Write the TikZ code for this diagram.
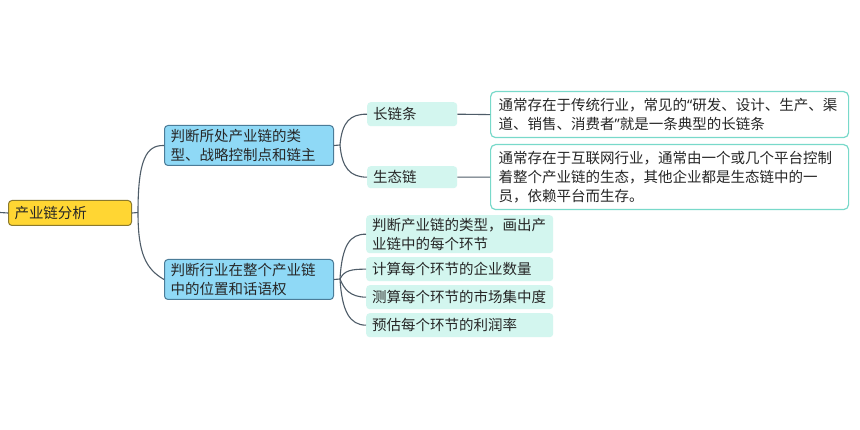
\documentclass[tikz,border=0pt]{standalone}
\usepackage{fontspec}
\setmainfont{Noto Sans CJK SC}
\newfontfamily\quotefont{Noto Sans}
\newcommand{\myoq}{{\quotefont “}}
\newcommand{\mycq}{{\quotefont ”}}
\definecolor{rootfill}{HTML}{FFD633}
\definecolor{rootdraw}{HTML}{8C7A2C}
\definecolor{bluefill}{HTML}{8FD9F6}
\definecolor{bluedraw}{HTML}{4B7C98}
\definecolor{mintfill}{HTML}{D3F6EF}
\definecolor{descdraw}{HTML}{78D9CA}
\definecolor{linec}{HTML}{4E5C68}
\definecolor{textc}{HTML}{262626}
\tikzset{
  base/.style={anchor=north west, align=left, text=textc, font=\fontsize{14.5}{19}\selectfont, inner ysep=1pt},
  rootbox/.style={base, draw=rootdraw, fill=rootfill, line width=1pt, rounded corners=3.5pt, inner xsep=6pt, text width=111pt, minimum height=25pt},
  bluebox/.style={base, draw=bluedraw, fill=bluefill, line width=1pt, rounded corners=3.5pt, inner xsep=6pt, text width=157pt, minimum height=40pt},
  mintbox/.style={base, fill=mintfill, rounded corners=3.5pt, inner xsep=6pt},
  descbox/.style={base, draw=descdraw, fill=white, line width=1.2pt, rounded corners=5pt, inner xsep=8pt, text width=342pt},
  conn/.style={draw=linec, line width=1.1pt},
}
\begin{document}
\begin{tikzpicture}[x=1pt,y=-1pt]
\useasboundingbox (0,0) rectangle (860,430);
\fill[white] (0,0) rectangle (860,430);
% nodes
\node[rootbox] (root) at (8,200) {产业链分析};
\node[bluebox] (n1) at (164,125) {判断所处产业链的类\\型、战略控制点和链主};
\node[bluebox] (n2) at (164,259) {判断行业在整个产业链\\中的位置和话语权};
\node[mintbox, text width=78pt, minimum height=24pt] (c1) at (367,102) {长链条};
\node[mintbox, text width=78pt, minimum height=22pt] (c2) at (367,166) {生态链};
\node[descbox, minimum height=46pt] (d1) at (490,91) {通常存在于传统行业，常见的\myoq 研发、设计、生产、渠\\道、销售、消费者\mycq 就是一条典型的长链条};
\node[descbox, minimum height=65pt] (d2) at (490,144) {通常存在于互联网行业，通常由一个或几个平台控制\\着整个产业链的生态，其他企业都是生态链中的一\\员，依赖平台而生存。};
\node[mintbox, text width=175pt, minimum height=38pt] (e1) at (366,215) {判断产业链的类型，画出产\\业链中的每个环节};
\node[mintbox, text width=175pt, minimum height=24pt] (e2) at (366,257) {计算每个环节的企业数量};
\node[mintbox, text width=175pt, minimum height=24pt] (e3) at (366,285) {测算每个环节的市场集中度};
\node[mintbox, text width=175pt, minimum height=24pt] (e4) at (366,313) {预估每个环节的利润率};
% junctions
\coordinate (lstub) at (0,212.5);
\coordinate (j0) at (138,212.5);
\coordinate (j1) at (340,145);
\coordinate (j2) at (340,279);
% connectors
\path[conn] (lstub) -- (root.west);
\path[conn] (root.east) -- (j0);
\path[conn] (j0) .. controls (138,160) and (146,145) .. (n1.west);
\path[conn] (j0) .. controls (138,254) and (146,269) .. (n2.west);
\path[conn] (n1.east) -- (j1);
\path[conn] (j1) .. controls (342,122) and (350,114) .. (c1.west);
\path[conn] (j1) .. controls (342,168) and (350,177) .. (c2.west);
\path[conn] (c1.east) -- (d1.west);
\path[conn] (c2.east) -- (d2.west);
\path[conn] (n2.east) -- (j2);
\path[conn] (j2) .. controls (342,245) and (350,234) .. (e1.west);
\path[conn] (j2) .. controls (344,271) and (350,269) .. (e2.west);
\path[conn] (j2) .. controls (344,289) and (350,297) .. (e3.west);
\path[conn] (j2) .. controls (342,312) and (350,325) .. (e4.west);
\end{tikzpicture}
\end{document}
